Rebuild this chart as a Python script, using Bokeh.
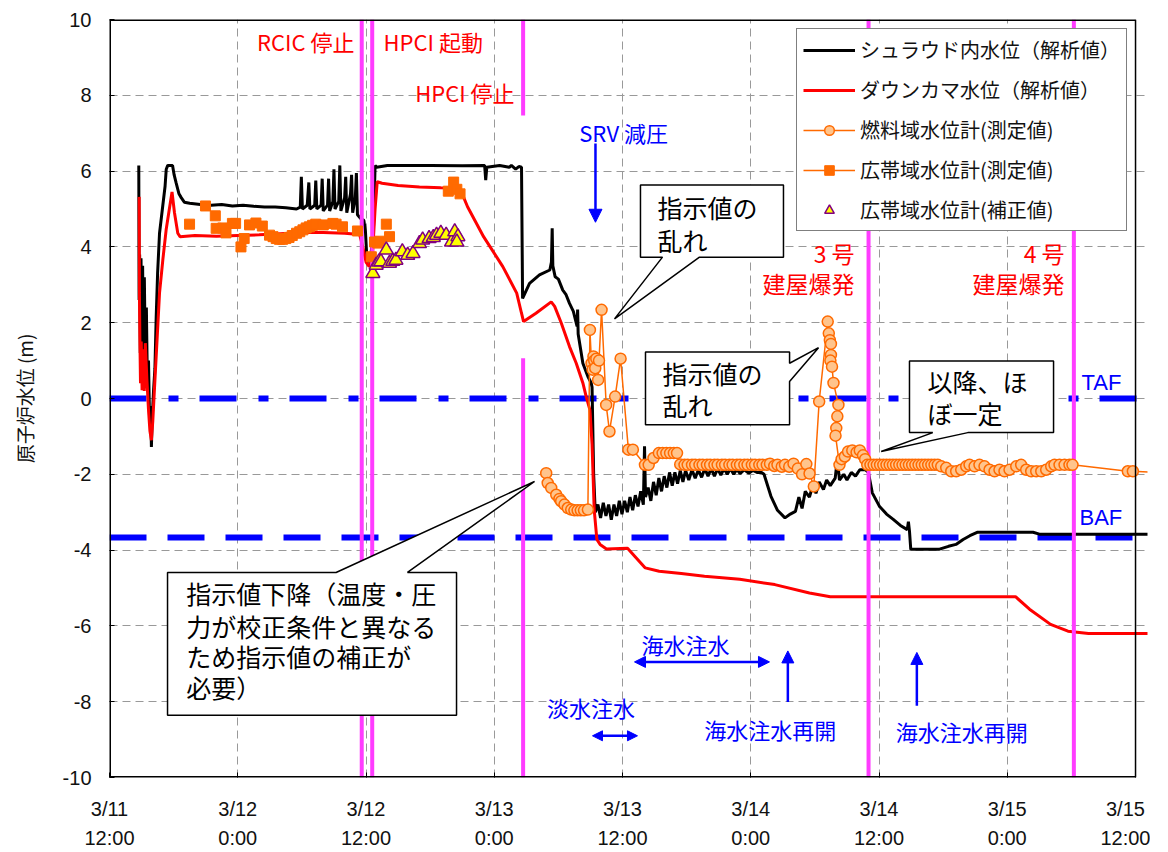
from bokeh.plotting import figure
from bokeh.models import FixedTicker, Legend, LegendItem, Label, Arrow, NormalHead, Range1d
from bokeh.embed import file_html
from bokeh.resources import INLINE

JP = "Noto Sans CJK JP"
LAT = "Liberation Sans"

# time axis: hours elapsed since 3/11 12:00
x_ticks = [0, 12, 24, 36, 48, 60, 72, 84, 96]
x_tick_labels = ["3/11\n12:00", "3/12\n0:00", "3/12\n12:00", "3/13\n0:00", "3/13\n12:00",
                 "3/14\n0:00", "3/14\n12:00", "3/15\n0:00", "3/15\n12:00"]
y_ticks = [-10, -8, -6, -4, -2, 0, 2, 4, 6, 8, 10]
y_tick_labels = ["-10", "-8", "-6", "-4", "-2", "0", "2", "4", "6", "8", "10"]

# シュラウド内水位（解析値） (hours, m)
shroud_pts = [
    (2.74, 6.15), (2.77, 2.6), (2.82, 3.8), (2.88, 1.2), (2.95, 3.7), (3.02, 1.6), (3.10, 3.5),
    (3.18, 0.9), (3.26, 3.2), (3.35, 1.1), (3.45, 2.4), (3.55, 0.3), (3.65, 1.0), (3.75, -0.6),
    (3.85, -0.2), (3.92, -1.28), (4.0, -0.5), (4.12, 0.2), (4.25, 0.8), (4.37, 2.16), (4.5, 3.3),
    (4.68, 4.36), (4.99, 5.1), (5.2, 5.6), (5.31, 6.05), (5.45, 6.15), (5.9, 6.15), (6.05, 5.9),
    (6.24, 5.68), (6.5, 5.4), (6.71, 5.3), (7.0, 5.18), (7.5, 5.15), (8.5, 5.12), (9.5, 5.1),
    (10.5, 5.12), (11.5, 5.08), (12.5, 5.1), (13.5, 5.07), (14.5, 5.05), (15.5, 5.05), (16.5, 5.03),
    (17.5, 5.0), (17.85, 5.05), (17.95, 5.85), (18.05, 5.0), (18.5, 5.1), (18.65, 5.7), (18.75, 5.0),
    (19.2, 5.1), (19.3, 5.75), (19.4, 5.0), (19.8, 5.1), (19.9, 5.8), (20.0, 4.95), (20.4, 5.1),
    (20.5, 5.8), (20.6, 4.95), (20.9, 5.2), (21.0, 6.05), (21.1, 5.0), (21.45, 5.2), (21.55, 6.15),
    (21.65, 4.95), (22.0, 5.3), (22.1, 5.85), (22.2, 4.9), (22.55, 5.4), (22.65, 5.9), (22.75, 4.9),
    (23.0, 5.3), (23.1, 5.95), (23.2, 4.85), (23.5, 4.75), (23.8, 4.7), (23.95, 4.4), (24.1, 3.6),
    (24.45, 3.75), (24.7, 4.5), (24.85, 6.15), (25.0, 6.1), (26.0, 6.15), (30.0, 6.15), (33.0, 6.14),
    (35.1, 6.15), (35.2, 5.76), (35.3, 6.1), (36.5, 6.15), (37.4, 6.1), (37.6, 6.15), (38.0, 6.05),
    (38.3, 6.12), (38.55, 6.1), (38.65, 2.64), (39.3, 3.04), (40.23, 3.26), (41.2, 3.39), (41.35, 3.6),
    (41.42, 4.49), (41.48, 3.5), (41.7, 3.21), (42.0, 3.15), (42.41, 2.86), (42.7, 2.75), (43.04, 2.51),
    (43.4, 2.3), (43.75, 1.9), (43.8, 2.35), (43.85, 1.7), (44.29, 0.93), (44.76, 0.58), (45.07, 0.41),
    (45.15, 0.3), (45.3, -2.0), (45.45, -3.0), (45.7, -2.8), (45.95, -3.15), (46.2, -2.75),
    (46.45, -3.1), (46.7, -2.8), (46.95, -3.2), (47.2, -2.8), (47.45, -3.1), (47.7, -2.7),
    (47.95, -3.05), (48.2, -2.7), (48.45, -3.0), (48.7, -2.6), (48.95, -2.95), (49.2, -2.55),
    (49.45, -2.85), (49.7, -2.45), (49.95, -2.8), (50.06, -1.26), (50.15, -2.6), (50.4, -2.35),
    (50.65, -2.7), (50.9, -2.2), (51.15, -2.55), (51.4, -2.1), (51.65, -2.45), (51.9, -2.05),
    (52.15, -2.35), (52.4, -1.95), (52.65, -2.3), (52.9, -1.95), (53.15, -2.25), (53.4, -1.9),
    (53.65, -2.2), (53.9, -1.9), (54.2, -2.15), (54.5, -1.88), (54.8, -2.1), (55.1, -1.88),
    (55.4, -2.08), (55.7, -1.85), (56.0, -2.05), (56.3, -1.85), (56.6, -2.05), (56.9, -1.85),
    (57.2, -2.02), (57.5, -1.85), (57.8, -2.0), (58.1, -1.85), (58.4, -2.0), (58.7, -1.87),
    (59.0, -1.98), (59.4, -1.88), (59.8, -1.97), (60.2, -1.9), (60.58, -1.95), (61.0, -1.95),
    (61.24, -2.0), (61.89, -2.58), (62.5, -2.95), (63.2, -3.15), (63.7, -3.05), (64.18, -2.98),
    (64.5, -2.6), (64.8, -2.9), (65.1, -2.45), (65.49, -2.6), (65.8, -2.3), (66.1, -2.5),
    (66.4, -2.2), (66.8, -2.4), (67.1, -2.15), (67.44, -2.3), (67.9, -2.1), (68.1, -1.6),
    (68.3, -2.15), (68.7, -2.0), (69.0, -2.15), (69.41, -1.95), (69.8, -2.05), (70.2, -1.88),
    (70.72, -1.88), (71.0, -1.95), (71.37, -2.49), (72.03, -2.84), (72.7, -3.05), (73.33, -3.19),
    (74.0, -3.35), (74.64, -3.46), (74.75, -3.25), (74.85, -3.5), (74.97, -3.98), (77.59, -3.98),
    (78.5, -3.9), (79.2, -3.85), (79.87, -3.72), (80.5, -3.62), (81.18, -3.53), (86.41, -3.53),
    (87.0, -3.58), (98.0, -3.58),
]

# ダウンカマ水位（解析値）
downcomer_pts = [
    (2.78, 5.32), (2.8, 2.8), (2.84, 1.63), (2.9, 0.4), (2.97, 1.5), (3.05, 0.22), (3.15, 1.3),
    (3.25, 0.2), (3.35, 1.46), (3.5, 0.5), (3.65, -0.3), (3.78, -0.85), (3.92, -1.1), (4.05, -0.6),
    (4.2, 0.22), (4.4, 1.28), (4.68, 2.78), (4.99, 3.66), (5.3, 4.45), (5.6, 5.0), (5.85, 5.45),
    (6.08, 4.9), (6.39, 4.36), (6.6, 4.27), (8.0, 4.3), (10.0, 4.28), (12.0, 4.3), (14.0, 4.32),
    (16.0, 4.35), (18.0, 4.38), (20.0, 4.38), (22.0, 4.36), (23.4, 4.33), (23.7, 4.0), (24.0, 3.6),
    (24.3, 3.48), (24.6, 3.75), (24.85, 5.0), (25.05, 5.72), (25.5, 5.68), (27.0, 5.62), (29.0, 5.58),
    (31.0, 5.56), (32.7, 5.55), (33.0, 5.4), (33.5, 5.06), (35.0, 4.27), (36.8, 3.48), (38.1, 2.78),
    (38.55, 2.25), (38.74, 2.03), (39.9, 2.25), (41.33, 2.55), (41.65, 2.43), (42.26, 2.0),
    (43.04, 1.37), (43.67, 0.93), (44.29, 0.41), (44.6, 0.05), (44.95, -0.3), (45.15, -1.2),
    (45.35, -2.93), (45.6, -3.72), (45.9, -3.85), (46.5, -3.97), (48.47, -3.95), (49.14, -4.16),
    (50.13, -4.47), (51.43, -4.56), (53.5, -4.62), (55.67, -4.69), (58.97, -4.77), (62.25, -4.91),
    (65.49, -5.13), (67.44, -5.23), (84.77, -5.23), (86.08, -5.56), (88.05, -5.96), (89.68, -6.14),
    (91.6, -6.2), (98.0, -6.2),
]

# 燃料域水位計(測定値)
fuel_time = [
    40.86, 41.0, 41.33, 41.8, 42.1, 42.26, 42.57, 42.88, 43.2, 43.5, 43.8, 44.1, 44.4, 44.76,
    44.95, 45.1, 45.2, 45.28, 45.35, 45.45, 45.55, 45.72, 45.8, 46.04, 46.47, 46.78, 47.31, 47.82,
    48.55, 48.97, 50.1, 50.45, 50.9, 51.4, 51.75, 52.1, 52.45, 52.8, 53.1,
    53.4, 53.8, 54.1, 54.5, 54.8, 55.2, 55.5, 55.9, 56.2, 56.6, 56.9, 57.3, 57.6, 58.0, 58.3,
    58.7, 59.0, 59.4, 59.7, 60.1, 60.4, 60.8, 61.1, 61.5, 61.8, 62.2, 62.5, 62.9, 63.2,
    63.6, 64.0, 64.4, 64.8, 65.2, 65.5, 65.9, 66.4,
    67.2, 67.3, 67.4, 67.5, 67.5, 67.45, 67.6, 67.74, 68.2, 68.1, 68.0, 67.93,
    68.3, 68.5, 68.8, 69.1, 69.5, 69.9, 70.2, 70.5, 70.7, 70.9,
    71.2, 71.5, 71.8, 72.1, 72.4, 72.7, 73.0, 73.3, 73.6, 73.9, 74.2, 74.5, 74.8, 75.1, 75.4,
    75.7, 76.0, 76.3, 76.6, 76.9, 77.2, 77.5,
    77.82, 78.29, 78.76, 79.22, 79.69, 80.16, 80.47, 80.94, 81.4, 81.87, 82.34, 82.81, 83.27,
    83.74, 84.21, 84.84, 85.3, 85.77, 86.24, 86.71, 87.18, 87.64, 88.11, 88.42, 88.89, 89.36,
    89.82, 90.1,
    95.28, 95.75, 98.0,
]
fuel_level = [
    -1.97, -2.23, -2.36, -2.54, -2.65, -2.71, -2.80, -2.89, -2.93, -2.95, -2.95, -2.95, -2.95, -2.93,
    1.81, 0.93, 0.76, 1.11, 1.0, 0.8, 1.05, 0.49, 1.0, 2.34, -0.17, -0.87, 0.05, 1.05,
    -1.35, -1.35, -1.75, -1.75, -1.57, -1.44, -1.44, -1.44, -1.44, -1.44, -1.44,
    -1.74, -1.75, -1.75, -1.75, -1.75, -1.75, -1.75, -1.75, -1.75, -1.75, -1.75, -1.75, -1.75,
    -1.75, -1.75, -1.75, -1.75, -1.75, -1.75, -1.75, -1.75, -1.75, -1.75, -1.75, -1.72, -1.78,
    -1.75, -1.80, -1.75,
    -1.80, -1.72, -1.85, -2.0, -1.73, -1.98, -2.32, -0.08,
    2.03, 1.72, 1.54, 1.44, 1.15, 1.0, 0.84, 0.41, -0.17, -0.47, -0.78, -0.98,
    -1.75, -1.6, -1.53, -1.40, -1.37, -1.42, -1.37, -1.5, -1.6, -1.75,
    -1.75, -1.75, -1.75, -1.75, -1.75, -1.75, -1.75, -1.75, -1.75, -1.75, -1.75, -1.75, -1.75,
    -1.75, -1.75, -1.75, -1.75, -1.75, -1.75, -1.75, -1.75, -1.75,
    -1.79, -1.83, -1.92, -1.92, -1.88, -1.79, -1.75, -1.79, -1.75, -1.79, -1.88, -1.92, -1.88,
    -1.92, -1.88, -1.79, -1.75, -1.88, -1.92, -1.92, -1.92, -1.88, -1.79, -1.75, -1.75, -1.75,
    -1.75, -1.75,
    -1.92, -1.92, -1.95,
]

# 広帯域水位計(測定値)
wide_time = [7.49, 8.98, 9.9, 9.98, 10.6, 10.9, 11.5, 11.8, 12.3, 12.6, 13.1, 13.7, 14.3, 14.97,
             15.3, 15.6, 15.9, 16.2, 16.5, 16.8, 17.1, 17.5, 17.8, 18.1, 18.4, 18.7, 19.0, 19.3,
             20.0, 20.9, 21.2, 21.8, 23.2, 24.5, 24.8, 25.1, 25.3, 25.9, 26.2, 31.7, 32.2, 32.5, 32.8]
wide_level = [4.6, 5.08, 4.82, 4.49, 4.5, 4.37, 4.62, 4.62, 4.0, 4.22, 4.58, 4.63, 4.55, 4.31,
              4.27, 4.22, 4.2, 4.2, 4.22, 4.25, 4.3, 4.36, 4.4, 4.45, 4.5, 4.53, 4.57, 4.6,
              4.58, 4.62, 4.6, 4.53, 4.42, 3.74, 4.13, 4.1, 4.15, 4.6, 4.27, 5.47, 5.71, 5.52, 5.4]

# 広帯域水位計(補正値)
corr_time = [24.64, 24.95, 25.2, 25.4, 25.9, 26.2, 26.5, 26.8, 27.4, 27.9, 28.4, 29.0, 29.3,
             29.9, 30.3, 30.6, 31.0, 31.5, 32.0, 32.3, 32.6, 32.5]
corr_level = [3.3, 3.52, 3.6, 3.61, 3.92, 3.57, 3.62, 3.65, 3.87, 3.78, 3.83, 4.09, 4.18,
              4.22, 4.25, 4.31, 4.36, 4.31, 4.13, 4.4, 4.27, 4.13]

# events (magenta lines): RCIC stop, HPCI start, HPCI stop (two parts), Unit 3, Unit 4
event_time = [23.6, 24.58, 38.7, 38.7, 71.02, 90.23]
event_from = [-10, -10, 7.47, -10, -10, -10]
event_to = [10, 10, 10, 1.06, 10, 10]

TAF = 0.0
BAF = -3.67

shroud_time = [a for a, _ in shroud_pts]
shroud_level = [b for _, b in shroud_pts]
down_time = [a for a, _ in downcomer_pts]
down_level = [b for _, b in downcomer_pts]

p = figure(width=1150, height=852, x_range=Range1d(0, 97.12), y_range=Range1d(-10, 10),
           output_backend="svg", toolbar_location=None,
           min_border_left=109, min_border_right=3, min_border_top=19, min_border_bottom=75)
p.outline_line_color = None
p.background_fill_color = "white"
p.border_fill_color = "white"

for ax in (p.xaxis[0], p.yaxis[0]):
    ax.axis_line_color = None
    ax.major_tick_in = 5
    ax.major_tick_out = 0
    ax.minor_tick_in = 0
    ax.minor_tick_out = 0
    ax.major_tick_line_color = "black"
    ax.major_label_text_font = LAT
    ax.major_label_text_font_size = "20px"
    ax.major_label_text_color = "#111111"

p.xaxis.ticker = FixedTicker(ticks=x_ticks)
p.xaxis.major_label_overrides = {t: l for t, l in zip(x_ticks, x_tick_labels)}
p.xaxis.major_label_standoff = 20
p.xaxis.major_label_text_line_height = 1.35
p.yaxis.ticker = FixedTicker(ticks=y_ticks)
p.yaxis.major_label_overrides = {t: l for t, l in zip(y_ticks, y_tick_labels)}
p.yaxis.major_label_standoff = 18
p.yaxis.axis_label = "原子炉水位 (m)"
p.yaxis.axis_label_text_font = JP
p.yaxis.axis_label_text_font_size = "19px"
p.yaxis.axis_label_text_font_style = "normal"
p.yaxis.axis_label_text_color = "#111111"
p.yaxis.axis_label_standoff = 22

for g in (p.xgrid[0], p.ygrid[0]):
    g.grid_line_color = "#999999"
    g.grid_line_dash = "8 5"
    g.grid_line_width = 1

# reference levels
p.line([0, 96.6], [TAF, TAF], line_color="#0000FF", line_width=6, line_dash="37 22 10 21")
p.line([0, 96.6], [BAF, BAF], line_color="#0000FF", line_width=6, line_dash="37 21")

# analysis curves
r_shroud = p.line(shroud_time, shroud_level, line_color="black", line_width=3)
r_down = p.line(down_time, down_level, line_color="#FF0000", line_width=3)

# event lines
p.segment(x0=event_time, y0=event_from, x1=event_time, y1=event_to, line_color="#FF3CFF", line_width=4)

# measured values
r_fuel_line = p.line(fuel_time, fuel_level, line_color="#FF6A00", line_width=1.5)
r_fuel_pts = p.scatter(fuel_time, fuel_level, marker="circle", size=11, fill_color="#FFC48C",
                       line_color="#FF6A00", line_width=1.5)
# legend-only line sample for the wide-range gauge (kept outside the visible x range)
r_wide_line = p.line([-50, -40], [0, 0], line_color="#FF6A00", line_width=1.5)
r_wide_pts = p.scatter(wide_time, wide_level, marker="square", size=10, fill_color="#FF6A00",
                       line_color="#FF6A00")
r_corr = p.scatter(corr_time, corr_level, marker="triangle", size=14, fill_color="#FFFF00",
                   line_color="#800080", line_width=1.5)

# callout boxes
callout_xs = [
    [49.68, 63.06, 63.06, 55.2, 47.25, 51.74, 49.68],
    [50.15, 63.63, 63.63, 66.34, 63.63, 63.63, 50.15],
    [74.85, 88.33, 88.33, 80.31, 72.2, 77.03, 74.85],
    [5.43, 21.2, 39.77, 27.88, 32.47, 32.47, 5.43],
]
callout_ys = [
    [5.63, 5.63, 3.73, 3.73, 2.10, 3.73, 3.73],
    [1.23, 1.23, 0.93, 1.34, 0.45, -0.69, -0.69],
    [0.99, 0.99, -0.90, -0.90, -1.40, -0.90, -0.90],
    [-4.59, -4.59, -2.19, -4.59, -4.59, -8.36, -8.36],
]
p.patches(callout_xs, callout_ys, fill_color="white", line_color="black", line_width=1.5)

# frame border
p.segment(x0=[0, 0, 0], y0=[10, -10, -10], x1=[96, 96, 0], y1=[10, -10, 10], line_color="black", line_width=3)
p.segment(x0=[96], y0=[-10], x1=[96], y1=[10], line_color="black", line_width=1.5)

def label(x, y, text, color, size, align="left", font=JP):
    p.add_layout(Label(x=x, y=y, text=text, text_color=color, text_font=font, text_font_size=size,
                       text_align=align, text_baseline="middle"))

RED = "#FF0000"
BLUE = "#0000FF"
label(22.92, 9.42, "RCIC 停止", RED, "22px", "right")
label(25.64, 9.42, "HPCI 起動", RED, "22px", "left")
label(37.9, 8.08, "HPCI 停止", RED, "22px", "right")
label(48.1, 7.03, "SRV 減圧", BLUE, "22px", "center")
label(69.71, 3.84, "3 号", RED, "23px", "right")
label(69.71, 3.05, "建屋爆発", RED, "23px", "right")
label(89.36, 3.84, "4 号", RED, "23px", "right")
label(89.36, 3.05, "建屋爆発", RED, "23px", "right")
label(90.95, 0.41, "TAF", BLUE, "22px", "left", LAT)
label(90.76, -3.14, "BAF", BLUE, "22px", "left", LAT)
label(53.9, -6.49, "海水注水", BLUE, "22px", "center")
label(45.05, -8.15, "淡水注水", BLUE, "22px", "center")
label(61.83, -8.73, "海水注水再開", BLUE, "22px", "center")
label(79.75, -8.77, "海水注水再開", BLUE, "22px", "center")

label(51.27, 5.05, "指示値の", "black", "25px")
label(51.27, 4.18, "乱れ", "black", "25px")
label(51.74, 0.68, "指示値の", "black", "25px")
label(51.74, -0.17, "乱れ", "black", "25px")
label(76.54, 0.45, "以降、ほ", "black", "25px")
label(76.54, -0.38, "ぼ一定", "black", "25px")
label(7.18, -5.12, "指示値下降（温度・圧", "black", "25px")
label(7.18, -6.01, "力が校正条件と異なる", "black", "25px")
label(7.18, -6.80, "ため指示値の補正が", "black", "25px")
label(7.18, -7.62, "必要）", "black", "25px")

def head(s):
    return NormalHead(size=s, fill_color=BLUE, line_color=BLUE)

p.add_layout(Arrow(x_start=45.47, y_start=6.73, x_end=45.47, y_end=4.65, end=head(13),
                   line_color=BLUE, line_width=2.5))
p.add_layout(Arrow(x_start=49.12, y_start=-6.95, x_end=61.75, y_end=-6.95, start=head(11), end=head(11),
                   line_color=BLUE, line_width=2.5))
p.add_layout(Arrow(x_start=45.19, y_start=-8.9, x_end=49.4, y_end=-8.9, start=head(10), end=head(10),
                   line_color=BLUE, line_width=2.5))
p.add_layout(Arrow(x_start=63.47, y_start=-8.01, x_end=63.47, y_end=-6.66, end=head(12),
                   line_color=BLUE, line_width=2.5))
p.add_layout(Arrow(x_start=75.54, y_start=-8.11, x_end=75.54, y_end=-6.7, end=head(12),
                   line_color=BLUE, line_width=2.5))

legend = Legend(items=[
    LegendItem(label="シュラウド内水位（解析値）", renderers=[r_shroud]),
    LegendItem(label="ダウンカマ水位（解析値）", renderers=[r_down]),
    LegendItem(label="燃料域水位計(測定値)", renderers=[r_fuel_line, r_fuel_pts]),
    LegendItem(label="広帯域水位計(測定値)", renderers=[r_wide_line, r_wide_pts]),
    LegendItem(label="広帯域水位計(補正値)", renderers=[r_corr]),
], location=(687, 546))
legend.label_text_font = JP
legend.label_text_font_size = "20px"
legend.label_text_color = "#111111"
legend.glyph_width = 52
legend.glyph_height = 24
legend.label_height = 24
legend.spacing = 11
legend.padding = 6
legend.margin = 0
legend.label_standoff = 5
legend.border_line_color = "black"
legend.border_line_width = 1
legend.background_fill_color = "white"
legend.background_fill_alpha = 1.0
p.add_layout(legend, "center")

open("out.html", "w").write(file_html(p, INLINE))
